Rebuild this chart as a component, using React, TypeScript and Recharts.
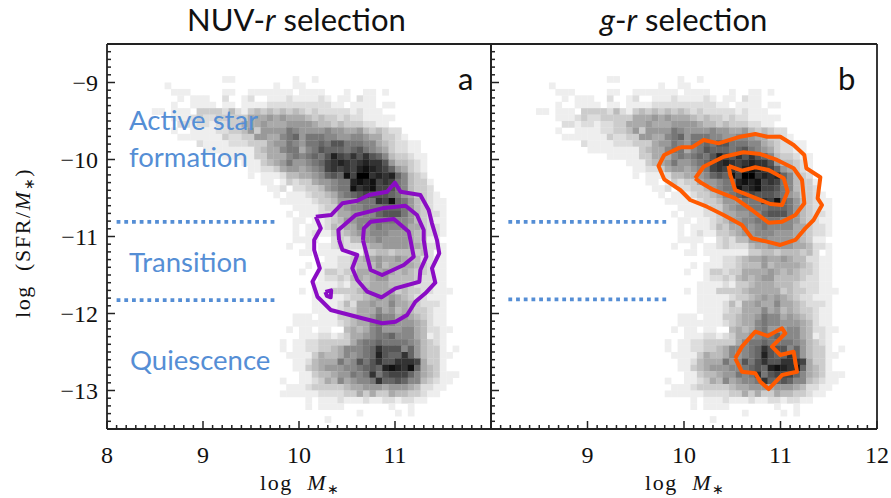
import { ScatterChart, Scatter, XAxis, YAxis } from "recharts";

// ─── Data ─────────────────────────────────────────────────────────────────────

// Density map read cell by cell: one hex digit per cell, 0 = white, f = black.
// Columns start at FIRST_COL, rows at FIRST_ROW, on a 60 x 60 grid over the axes.
const FIRST_COL = 6;
const FIRST_ROW = 5;
const densityRows = [
  "0000000000 0011000000 0001001000",
  "0001000000 0000000000 1001100000",
  "0000111000 0011001111 1110111100 0100110100",
  "0000010111 0020012001 1121111210 1102110000",
  "0000100111 1011011112 2222222221 1011110110",
  "0110111033 3324213434 3434323222 2212111000",
  "0000111232 2333335556 5655543433 2322111110",
  "0000022122 1223355565 5566665443 4333221100",
  "0000100111 1223346366 6687666676 6556434322",
  "0000011111 1132233665 5789688877 6677655332 1",
  "0000000021 1112223335 668768898a a888775432 211",
  "0000000001 1111111345 5788578a99 989a876532 211",
  "0000000000 0011111335 55787898ad bacaca9743 3211",
  "0000000000 0000011134 56866789bc dcbcdcca64 4321",
  "0000000000 0000001122 35665678bc bcbdedcb96 5321",
  "0000000000 0000001011 124455679a 9ebffcdcd9 7432",
  "0000000000 0000000011 0132335667 88dedebcb8 74331",
  "0000000000 0000000001 1202233467 88ecdebba8 74332",
  "0000000000 0000000000 1011123345 789abaaa98 653321",
  "0000000000 0000000000 0111112334 666888cbe9 8643211",
  "0000000000 0000000000 0001111233 5677888999 8643211",
  "0000000000 0000000000 0010111223 5566779aaa 8643221",
  "0000000000 0000000000 0001101123 4667788887 7643211",
  "0000000000 0000000000 0001011124 3557678777 7553221",
  "0000000000 0000000000 0001012113 3456677766 6543221",
  "0000000000 0000000000 0001111002 3244667666 6543110",
  "0000000000 0000000000 0010010112 3222455666 6554221",
  "0000000000 0000000000 0000110111 1111334434 4434201",
  "0000000000 0000000000 0000000011 2234556556 5442211",
  "0000000000 0000000000 0000010111 2234446455 5543211",
  "0000000000 0000000000 0000100133 2335555654 5433211",
  "0000000000 0000000000 0000000122 3245456644 4432211",
  "0000000000 0000000000 0000001111 2133455544 4322211",
  "0000000000 0000000000 0000101113 3334555553 43322111",
  "0000000000 0000000000 0000001111 1233456565 4322111",
  "0000000000 0000000000 0000001111 2425565575 5432221",
  "0000000000 0000000000 0000001111 2335557564 5433211",
  "0000000000 0000000000 0001110111 3345568775 6543211",
  "0000000000 0000000000 0001111111 2345578776 6654211",
  "0000000000 0000000000 0010110110 0454578666 77542211",
  "0000000000 0000000000 0000111221 2355678897 7754121",
  "0000000000 0000000000 0101122333 3357889888 8764321",
  "0000000000 0000000000 0101122334 577789caaa 796433101",
  "0000000000 0000000000 0011113544 576789da99 c9643311",
  "0000000000 0000000000 0001124555 867a8acaac ccb5331",
  "0000000000 0000000000 0001134566 67789a9ded ce95431",
  "0000000000 0000000000 0000113445 66878c8abb b97543111",
  "0000000000 0000000000 0100112354 756778c99a 97743211",
  "0000000000 0000000000 0011123333 3455666566 6542211",
  "0000000000 0000000000 0111111222 2335353354 433211",
  "0000000000 0000000000 0000010111 2111211221 2211",
  "0000000000 0000000000 0000010111 1000000010 01",
  "0000000000 0000000000 0000000000 0001000001 01",
  "0000000000 0000000000 0000000010",
];

// Contours, [log M*, log SFR/M*]
const purpleOuter = [
  [10.175, -10.743], [10.334, -10.721], [10.452, -10.569], [10.607, -10.535],
  [10.728, -10.461], [10.918, -10.418], [10.998, -10.301], [11.057, -10.418],
  [11.264, -10.461], [11.351, -10.656], [11.385, -10.829], [11.437, -11.045],
  [11.461, -11.218], [11.385, -11.413], [11.42, -11.6], [11.316, -11.738],
  [11.212, -11.847], [11.126, -12.019], [11.005, -12.106], [10.866, -12.127],
  [10.659, -12.062], [10.331, -11.955], [10.192, -11.782], [10.14, -11.587],
  [10.217, -11.413], [10.158, -11.175], [10.158, -11.045], [10.227, -10.894],
  [10.175, -10.743],
];
const purpleMiddle = [
  [10.417, -11.045], [10.41, -10.916], [10.59, -10.721], [10.866, -10.634],
  [11.109, -10.6], [11.229, -10.721], [11.299, -10.916], [11.299, -11.045],
  [11.327, -11.262], [11.264, -11.435], [11.254, -11.587], [11.005, -11.673],
  [10.86, -11.79], [10.711, -11.717], [10.607, -11.565], [10.555, -11.413],
  [10.607, -11.24], [10.452, -11.175], [10.417, -11.045],
];
const purpleInner = [
  [10.666, -11.045], [10.676, -10.894], [10.746, -10.808], [10.988, -10.773],
  [11.143, -10.938], [11.161, -11.045], [11.195, -11.262], [11.091, -11.37],
  [10.866, -11.5], [10.746, -11.435], [10.711, -11.262], [10.666, -11.045],
];
const purpleSpot = [
  [10.275, -11.72], [10.335, -11.7], [10.33, -11.79], [10.29, -11.77], [10.275, -11.72],
];
const orangeOuter = [
  [9.961, -9.842], [10.082, -9.842], [10.203, -9.747], [10.358, -9.79],
  [10.583, -9.704], [10.739, -9.669], [10.86, -9.704], [10.998, -9.704],
  [11.136, -9.812], [11.247, -9.942], [11.268, -10.114], [11.413, -10.231],
  [11.385, -10.504], [11.43, -10.591], [11.343, -10.786], [11.257, -10.894],
  [11.154, -11.045], [10.998, -11.11], [10.86, -11.067], [10.704, -11.023],
  [10.6, -10.851], [10.41, -10.721], [10.238, -10.613], [10.064, -10.526],
  [9.961, -10.396], [9.795, -10.257], [9.736, -10.084], [9.795, -9.942],
  [9.961, -9.842],
];
const orangeMiddle = [
  [10.116, -10.244], [10.203, -10.094], [10.41, -9.964], [10.617, -9.906],
  [10.79, -9.929], [10.964, -10.006], [11.136, -10.114], [11.223, -10.266],
  [11.247, -10.569], [11.154, -10.721], [11.016, -10.808], [10.877, -10.821],
  [10.704, -10.656], [10.531, -10.504], [10.306, -10.396], [10.186, -10.309],
  [10.116, -10.244],
];
const orangeInner = [
  [10.462, -10.084], [10.6, -10.145], [10.739, -10.101], [10.877, -10.136],
  [11.033, -10.244], [11.074, -10.418], [11.016, -10.591], [10.894, -10.578],
  [10.704, -10.483], [10.531, -10.396], [10.479, -10.201], [10.462, -10.084],
];
const orangeLower = [
  [10.531, -12.582], [10.6, -12.431], [10.739, -12.236], [10.867, -12.292],
  [11.016, -12.192], [11.05, -12.257], [10.912, -12.431], [10.998, -12.539],
  [11.136, -12.496], [11.171, -12.756], [11.016, -12.799], [10.877, -12.981],
  [10.79, -12.886], [10.739, -12.777], [10.6, -12.756], [10.531, -12.582],
];

// Dotted boundaries of the transition zone
const boundsA = [
  [[8.1, -10.81], [9.78, -10.81]],
  [[8.1, -11.825], [9.78, -11.825]],
];
const boundsB = [
  [[8.18, -10.81], [9.84, -10.81]],
  [[8.18, -11.816], [9.84, -11.816]],
];

const xLabelsA = [8, 9, 10, 11];
const xLabelsB = [9, 10, 11, 12];
const yLabels = [-9, -10, -11, -12, -13];

const xTicks = Array.from({ length: 41 }, (_, i) => 8 + i / 10);
const yTicks = Array.from({ length: 51 }, (_, i) => -8.5 - i / 10);

const densityCells = densityRows.flatMap((row, r) =>
  row
    .replace(/ /g, "")
    .split("")
    .flatMap((ch, c) => {
      const level = parseInt(ch, 16);
      if (!level) return [];
      return [
        {
          x: 8 + (FIRST_COL + c + 0.5) / 15,
          y: -8.5 - (FIRST_ROW + r + 0.5) / 12,
          level,
        },
      ];
    })
);

const toPoints = (pairs: number[][]) => pairs.map(([x, y]) => ({ x, y }));

// ─── Style ────────────────────────────────────────────────────────────────────

const WIDTH = 891;
const HEIGHT = 498;
const PLOT_TOP = 44;
const PLOT_BOTTOM = 429;
const CELL = 6.42;
const AXIS_COLOR = "#222";
const BLUE = "#558ed5";
const PURPLE = "#8a0cc4";
const ORANGE = "#ff5a00";
const SANS = "Lato, Carlito, sans-serif";
const SERIF = "'Liberation Serif', serif";

const isMajor = (v: number) => Math.abs(v - Math.round(v)) < 1e-6;

// ─── Marks and ticks ──────────────────────────────────────────────────────────

function DensityCell(props: any) {
  const { cx, cy, payload } = props;
  const g = 255 - 17 * payload.level;
  return (
    <rect
      x={cx - CELL / 2}
      y={cy - CELL / 2}
      width={CELL + 0.3}
      height={CELL + 0.3}
      fill={`rgb(${g},${g},${g})`}
    />
  );
}

const NoDot = () => <g />;

function XTick({ x, payload, labels, top }: any) {
  const len = isMajor(payload.value) ? 8 : 4;
  const show = !top && labels.some((v: number) => Math.abs(v - payload.value) < 1e-6);
  return (
    <g>
      <line
        x1={x}
        x2={x}
        y1={top ? PLOT_TOP : PLOT_BOTTOM}
        y2={top ? PLOT_TOP + len : PLOT_BOTTOM - len}
        stroke={AXIS_COLOR}
        strokeWidth={1.5}
      />
      {show && (
        <text
          x={x}
          y={463}
          textAnchor="middle"
          fontFamily={SERIF}
          fontSize={24}
          fill="#111"
        >
          {Math.round(payload.value)}
        </text>
      )}
    </g>
  );
}

function YTick({ y, payload, labels, edge, right }: any) {
  const len = isMajor(payload.value) ? 8 : 4;
  const show = !right && labels.some((v: number) => Math.abs(v - payload.value) < 1e-6);
  return (
    <g>
      <line
        x1={edge}
        x2={right ? edge - len : edge + len}
        y1={y}
        y2={y}
        stroke={AXIS_COLOR}
        strokeWidth={1.5}
      />
      {show && (
        <text
          x={98}
          y={y + 8}
          textAnchor="end"
          fontFamily={SERIF}
          fontSize={24}
          fill="#111"
        >
          {"\u2212" + Math.abs(Math.round(payload.value))}
        </text>
      )}
    </g>
  );
}

// ─── Panel ────────────────────────────────────────────────────────────────────

interface PanelProps {
  left: number;
  right: number;
  xLabels: number[];
  yTickLabels: number[];
  contours: number[][][];
  bounds: number[][][];
  color: string;
}

function Panel({ left, right, xLabels, yTickLabels, contours, bounds, color }: PanelProps) {
  return (
    <div style={{ position: "absolute", left: 0, top: 0 }}>
      <ScatterChart
        width={WIDTH}
        height={HEIGHT}
        margin={{
          top: PLOT_TOP - 1,
          bottom: HEIGHT - PLOT_BOTTOM - 1,
          left: left - 1,
          right: WIDTH - right - 1,
        }}
      >
        <XAxis
          xAxisId={0}
          type="number"
          dataKey="x"
          domain={[8, 12]}
          ticks={xTicks}
          interval={0}
          height={1}
          tickLine={false}
          stroke={AXIS_COLOR}
          strokeWidth={1.8}
          tick={<XTick labels={xLabels} />}
        />
        <XAxis
          xAxisId="top"
          orientation="top"
          type="number"
          dataKey="x"
          domain={[8, 12]}
          ticks={xTicks}
          interval={0}
          height={1}
          tickLine={false}
          stroke={AXIS_COLOR}
          strokeWidth={1.8}
          tick={<XTick labels={xLabels} top />}
        />
        <YAxis
          yAxisId={0}
          type="number"
          dataKey="y"
          domain={[-13.5, -8.5]}
          ticks={yTicks}
          interval={0}
          width={1}
          tickLine={false}
          stroke={AXIS_COLOR}
          strokeWidth={1.8}
          tick={<YTick labels={yTickLabels} edge={left} />}
        />
        <YAxis
          yAxisId="right"
          orientation="right"
          type="number"
          dataKey="y"
          domain={[-13.5, -8.5]}
          ticks={yTicks}
          interval={0}
          width={1}
          tickLine={false}
          stroke={AXIS_COLOR}
          strokeWidth={1.8}
          tick={<YTick labels={yTickLabels} edge={right} right />}
        />
        <Scatter
          data={densityCells}
          shape={<DensityCell />}
          isAnimationActive={false}
        />
        {bounds.map((b, i) => (
          <Scatter
            key={`bound-${i}`}
            data={toPoints(b)}
            shape={<NoDot />}
            line={{ stroke: BLUE, strokeWidth: 3.8, strokeDasharray: "3.8 3.9" }}
            isAnimationActive={false}
          />
        ))}
        {contours.map((c, i) => (
          <Scatter
            key={`contour-${i}`}
            data={toPoints(c)}
            shape={<NoDot />}
            line={{ stroke: color, strokeWidth: 4, strokeLinejoin: "round", fill: "none" }}
            isAnimationActive={false}
          />
        ))}
      </ScatterChart>
    </div>
  );
}

// ─── App ──────────────────────────────────────────────────────────────────────

const blueText = { fontFamily: SANS, fontSize: 27.5, fill: BLUE };
const serifName = { fontFamily: SERIF, fontSize: 22, fill: "#111", letterSpacing: 1.6 };

export default function App() {
  return (
    <div
      style={{
        position: "absolute",
        left: 0,
        top: 0,
        width: WIDTH,
        height: HEIGHT,
        overflow: "hidden",
        background: "#fff",
      }}
    >
      <Panel
        left={107}
        right={491}
        xLabels={xLabelsA}
        yTickLabels={yLabels}
        contours={[purpleOuter, purpleMiddle, purpleInner, purpleSpot]}
        bounds={boundsA}
        color={PURPLE}
      />
      <Panel
        left={491}
        right={877}
        xLabels={xLabelsB}
        yTickLabels={[]}
        contours={[orangeOuter, orangeMiddle, orangeInner, orangeLower]}
        bounds={boundsB}
        color={ORANGE}
      />

      {/* Titles, annotations and axis names */}
      <svg
        width={WIDTH}
        height={HEIGHT}
        style={{ position: "absolute", left: 0, top: 0, pointerEvents: "none" }}
      >
        <text x={187} y={31} fontFamily={SANS} fontSize={31} fill="#111">
          NUV-<tspan fontStyle="italic">r</tspan> selection
        </text>
        <text x={600} y={31} fontFamily={SANS} fontSize={31} fill="#111">
          <tspan fontStyle="italic">g</tspan>-<tspan fontStyle="italic">r</tspan> selection
        </text>

        <text x={129} y={130} {...blueText}>Active star</text>
        <text x={129} y={167} {...blueText}>formation</text>
        <text x={129} y={272} {...blueText}>Transition</text>
        <text x={130} y={370} {...blueText}>Quiescence</text>

        <text x={458} y={90} fontFamily={SANS} fontSize={31} fill="#111">a</text>
        <text x={838} y={90} fontFamily={SANS} fontSize={31} fill="#111">b</text>

        <text transform="translate(30,318) rotate(-90)" {...serifName} xmlSpace="preserve">
          log  (SFR/<tspan fontStyle="italic">M</tspan>
          <tspan fontSize={14} dy={4}>∗</tspan>
          <tspan dy={-4}>)</tspan>
        </text>
        {[260, 645].map((x) => (
          <text key={x} x={x} y={490} {...serifName} xmlSpace="preserve">
            log  <tspan fontStyle="italic">M</tspan>
            <tspan fontSize={14} dy={4}>∗</tspan>
          </text>
        ))}
      </svg>
    </div>
  );
}
